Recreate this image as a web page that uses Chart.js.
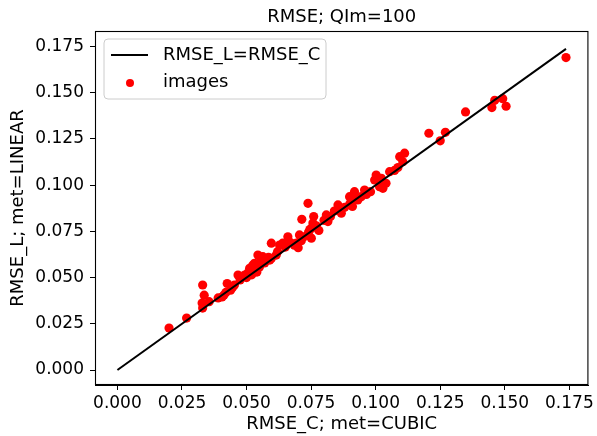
<!DOCTYPE html>
<html>
<head>
<meta charset="utf-8">
<script src="https://cdn.jsdelivr.net/npm/chart.js@4.4.1/dist/chart.umd.min.js"></script>
<style>
  html, body { margin: 0; padding: 0; background: #ffffff; }
  #wrap { width: 597px; height: 436px; }
</style>
</head>
<body>
<div id="wrap"><canvas id="chart" width="597" height="436"></canvas></div>
<script>
// ---- data ----
const chartTitle = 'RMSE; QIm=100';
const xAxisTitle = 'RMSE_C; met=CUBIC';
const yAxisTitle = 'RMSE_L; met=LINEAR';
const lineLabel = 'RMSE_L=RMSE_C';
const pointsLabel = 'images';

const rmseCubic = [
  0.0200, 0.0268, 0.0330, 0.0328, 0.0336, 0.0330, 0.0355, 0.0390, 0.0405, 0.0412,
  0.0420, 0.0425, 0.0438, 0.0445, 0.0453, 0.0467, 0.0475, 0.0493, 0.0500, 0.0505,
  0.0512, 0.0520, 0.0524, 0.0531, 0.0540, 0.0544, 0.0550, 0.0555, 0.0563, 0.0570,
  0.0577, 0.0585, 0.0590, 0.0596, 0.0596, 0.0615, 0.0620, 0.0628, 0.0640, 0.0650,
  0.0660, 0.0670, 0.0685, 0.0693, 0.0700, 0.0705, 0.0712, 0.0714, 0.0720, 0.0738,
  0.0740, 0.0745, 0.0751, 0.0751, 0.0757, 0.0760, 0.0770, 0.0780, 0.0800, 0.0809,
  0.0815, 0.0825, 0.0840, 0.0854, 0.0860, 0.0867, 0.0880, 0.0899, 0.0900, 0.0910,
  0.0918, 0.0925, 0.0931, 0.0944, 0.0957, 0.0964, 0.0980, 0.0996, 0.1002, 0.1015,
  0.1022, 0.1028, 0.1040, 0.1054, 0.1073, 0.1086, 0.1093, 0.1105, 0.1112, 0.1206,
  0.1250, 0.1270, 0.1348, 0.1450, 0.1461, 0.1492, 0.1505, 0.1737
];
const rmseLinear = [
  0.0227, 0.0281, 0.0335, 0.0362, 0.0405, 0.0460, 0.0370, 0.0390, 0.0395, 0.0405,
  0.0420, 0.0468, 0.0432, 0.0445, 0.0460, 0.0514, 0.0487, 0.0514, 0.0500, 0.0525,
  0.0550, 0.0515, 0.0567, 0.0577, 0.0530, 0.0622, 0.0557, 0.0590, 0.0613, 0.0579,
  0.0595, 0.0610, 0.0595, 0.0686, 0.0604, 0.0622, 0.0640, 0.0676, 0.0686, 0.0665,
  0.0721, 0.0690, 0.0675, 0.0686, 0.0662, 0.0731, 0.0700, 0.0815, 0.0720, 0.0902,
  0.0745, 0.0760, 0.0713, 0.0767, 0.0795, 0.0830, 0.0780, 0.0755, 0.0810, 0.0839,
  0.0803, 0.0830, 0.0860, 0.0893, 0.0870, 0.0848, 0.0880, 0.0938, 0.0900, 0.0885,
  0.0965, 0.0925, 0.0920, 0.0938, 0.0974, 0.0950, 0.0965, 0.1028, 0.1055, 0.0992,
  0.1037, 0.0983, 0.1010, 0.1073, 0.1080, 0.1095, 0.1154, 0.1127, 0.1173, 0.1281,
  0.1240, 0.1286, 0.1396, 0.1420, 0.1459, 0.1468, 0.1427, 0.1690
];
// identity line runs from 0 to the largest RMSE_C value
const identityEnds = [0, 0.1737];
const tickValues = [0, 0.025, 0.05, 0.075, 0.1, 0.125, 0.15, 0.175];
const xRange = [-0.00868, 0.18238];
const yRange = [-0.0081, 0.1834];

// ---- chart ----
const FONT = 'DejaVu Sans';
Chart.defaults.font.family = FONT;
Chart.defaults.color = '#000000';

const scatterPoints = rmseCubic.map((x, i) => ({ x: x, y: rmseLinear[i] }));
const linePoints = identityEnds.map(v => ({ x: v, y: v }));

const framePlugin = {
  id: 'frameAndExtras',
  afterDraw(chart) {
    const { ctx, chartArea: a } = chart;
    ctx.save();
    // full axes frame
    ctx.strokeStyle = '#000000';
    ctx.lineWidth = 1.1;
    ctx.strokeRect(a.left + 0.5, a.top + 0.5, a.right - a.left - 1, a.bottom - a.top - 1);

    // title, centred over the axes
    ctx.fillStyle = '#000000';
    ctx.font = '18px "' + FONT + '"';
    ctx.textAlign = 'center';
    ctx.textBaseline = 'middle';
    ctx.fillText(chartTitle, (a.left + a.right) / 2, 17);

    // legend box inside the axes (upper left)
    const bx = a.left + 9, by = a.top + 8, bw = 222, bh = 60, r = 4;
    ctx.beginPath();
    ctx.moveTo(bx + r, by);
    ctx.lineTo(bx + bw - r, by);
    ctx.quadraticCurveTo(bx + bw, by, bx + bw, by + r);
    ctx.lineTo(bx + bw, by + bh - r);
    ctx.quadraticCurveTo(bx + bw, by + bh, bx + bw - r, by + bh);
    ctx.lineTo(bx + r, by + bh);
    ctx.quadraticCurveTo(bx, by + bh, bx, by + bh - r);
    ctx.lineTo(bx, by + r);
    ctx.quadraticCurveTo(bx, by, bx + r, by);
    ctx.closePath();
    ctx.fillStyle = 'rgba(255,255,255,0.8)';
    ctx.fill();
    ctx.strokeStyle = '#cccccc';
    ctx.lineWidth = 1;
    ctx.stroke();

    // legend entries
    const row1 = by + 16, row2 = by + 43;
    ctx.strokeStyle = '#000000';
    ctx.lineWidth = 2;
    ctx.beginPath();
    ctx.moveTo(bx + 7, row1);
    ctx.lineTo(bx + 44, row1);
    ctx.stroke();
    ctx.fillStyle = '#ff0000';
    ctx.beginPath();
    ctx.arc(bx + 26, row2 + 1, 4, 0, Math.PI * 2);
    ctx.fill();
    ctx.fillStyle = '#000000';
    ctx.font = '18px "' + FONT + '"';
    ctx.textAlign = 'left';
    ctx.textBaseline = 'middle';
    ctx.fillText(lineLabel, bx + 59, row1);
    ctx.fillText(pointsLabel, bx + 59, row2);
    ctx.restore();
  }
};

function axisOptions(titleText, isX, range) {
  return {
    type: 'linear',
    min: range[0],
    max: range[1],
    afterBuildTicks(scale) {
      scale.ticks = tickValues.map(v => ({ value: v }));
    },
    afterFit(scale) {
      if (isX) { scale.height = 51; } else { scale.width = 95; }
    },
    ticks: {
      font: { size: 17 },
      color: '#000000',
      padding: isX ? 3 : 6,
      autoSkip: false,
      maxRotation: 0,
      callback: v => Number(v).toFixed(3)
    },
    grid: {
      drawOnChartArea: false,
      drawTicks: true,
      tickLength: 5,
      tickWidth: 1,
      tickColor: '#000000'
    },
    border: { display: true, color: '#000000', width: 1 },
    title: {
      display: true,
      text: titleText,
      color: '#000000',
      font: { size: 18 },
      padding: isX ? { top: 0, bottom: 1 } : { top: 8, bottom: 0 }
    }
  };
}

new Chart(document.getElementById('chart'), {
  type: 'scatter',
  data: {
    datasets: [
      {
        type: 'line',
        label: lineLabel,
        data: linePoints,
        borderColor: '#000000',
        borderWidth: 2,
        pointRadius: 0,
        fill: false,
        tension: 0,
        order: 0
      },
      {
        type: 'scatter',
        label: pointsLabel,
        data: scatterPoints,
        backgroundColor: '#ff0000',
        borderWidth: 0,
        pointRadius: 4.6,
        order: 1
      }
    ]
  },
  options: {
    responsive: false,
    animation: false,
    devicePixelRatio: 1,
    layout: { padding: { left: 0, right: 8, top: 31, bottom: 0 } },
    plugins: {
      legend: { display: false },
      title: { display: false },
      tooltip: { enabled: false }
    },
    scales: {
      x: axisOptions(xAxisTitle, true, xRange),
      y: axisOptions(yAxisTitle, false, yRange)
    }
  },
  plugins: [framePlugin]
});
</script>
</body>
</html>
